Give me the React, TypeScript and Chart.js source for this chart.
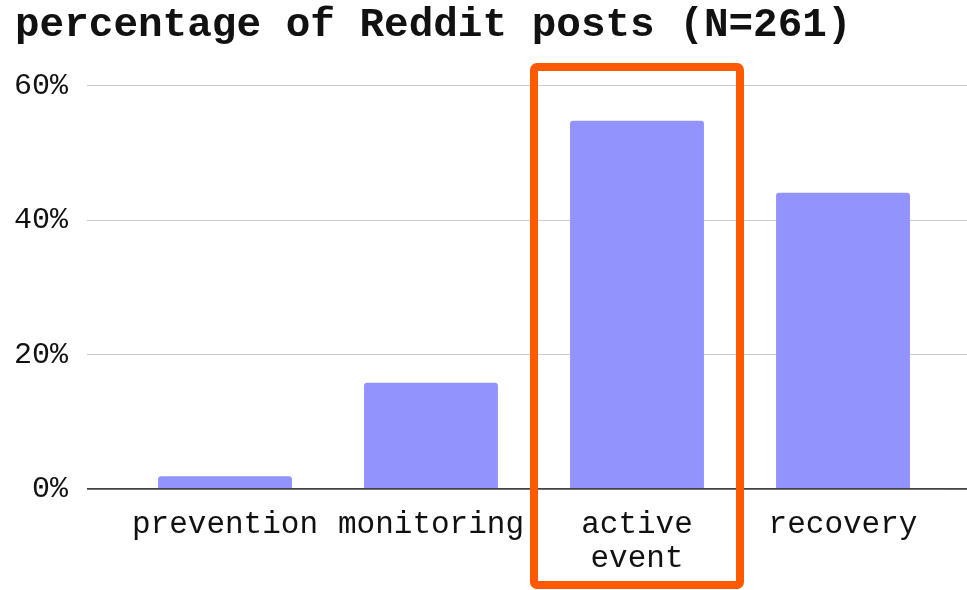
import React, { useEffect, useRef } from "react";
import { Chart, registerables } from "chart.js";

Chart.register(...registerables);

const TITLE = "percentage of Reddit posts (N=261)";
const categories: (string | string[])[] = ["prevention", "monitoring", ["active", "event"], "recovery"];
const percentages = [1.9, 15.8, 54.8, 44.1];
const yTickValues = [0, 20, 40, 60];
const Y_MIN = 0;
const Y_MAX = 60;
const Y_STEP = 20;

// highlight box around a category (in data units)
const HIGHLIGHT_INDEX = 2;
const HIGHLIGHT_TOP = 62.8;
const HIGHLIGHT_BOTTOM = -14.3;

const FONT = "'Courier New', 'Liberation Mono', monospace";
const BAR_COLOR = "#9393fd";
const GRID_COLOR = "#cccccc";
const ZERO_COLOR = "#444444";
const HIGHLIGHT_COLOR = "#ff5a00";

const highlightPlugin = {
  id: "highlightBox",
  afterDatasetsDraw(chart: any) {
    const xs = chart.scales.x;
    const ys = chart.scales.y;
    const cx = xs.getPixelForValue(HIGHLIGHT_INDEX);
    const step = xs.getPixelForValue(1) - xs.getPixelForValue(0);
    const half = step * 0.5;
    const top = ys.getPixelForValue(HIGHLIGHT_TOP);
    const bottom = ys.getPixelForValue(HIGHLIGHT_BOTTOM);
    const ctx = chart.ctx;
    ctx.save();
    ctx.strokeStyle = HIGHLIGHT_COLOR;
    ctx.lineWidth = 8;
    ctx.lineJoin = "round";
    ctx.beginPath();
    if ((ctx as any).roundRect) {
      (ctx as any).roundRect(cx - half, top, half * 2, bottom - top, 3);
    } else {
      ctx.rect(cx - half, top, half * 2, bottom - top);
    }
    ctx.stroke();
    ctx.restore();
  },
};

const gridColor = (c: any) => (c.tick && c.tick.value === 0 ? ZERO_COLOR : GRID_COLOR);
const gridWidth = (c: any) => (c.tick && c.tick.value === 0 ? 1.8 : 1);

export default function App() {
  const ref = useRef<HTMLCanvasElement | null>(null);
  useEffect(() => {
    if (!ref.current) return;
    const chart = new Chart(ref.current, {
      type: "bar",
      data: {
        labels: categories as any,
        datasets: [
          {
            data: percentages,
            backgroundColor: BAR_COLOR,
            borderRadius: 3,
            categoryPercentage: 1,
            barPercentage: 0.65,
          },
        ],
      },
      options: {
        animation: false,
        responsive: true,
        maintainAspectRatio: false,
        layout: { padding: { left: 15, right: 0, top: 0, bottom: 0 } },
        plugins: {
          legend: { display: false },
          tooltip: { enabled: false },
          title: {
            display: true,
            text: TITLE,
            align: "start",
            color: "#111111",
            font: { family: FONT, size: 41, weight: "bold", lineHeight: 0.85 },
            padding: { top: 8, bottom: 43 },
          },
        },
        scales: {
          x: {
            grid: { display: false },
            border: { display: false },
            afterFit: (s: any) => {
              s.paddingLeft = 0;
              s.paddingRight = 0;
              s.height = 101;
            },
            ticks: {
              color: "#111111",
              font: { family: FONT, size: 31, lineHeight: 1.12 },
              padding: 10,
              maxRotation: 0,
              autoSkip: false,
            },
          },
          y: {
            min: Y_MIN,
            max: Y_MAX,
            afterBuildTicks: (s: any) => {
              s.ticks = yTickValues.map((v) => ({ value: v }));
            },
            afterFit: (s: any) => {
              s.width = 107;
            },
            ticks: {
              stepSize: Y_STEP,
              color: "#111111",
              font: { family: FONT, size: 30 },
              padding: 19,
              callback: (v: any) => v + "%",
            },
            grid: {
              color: gridColor,
              tickColor: gridColor,
              lineWidth: gridWidth,
              drawTicks: true,
              tickLength: 35,
            },
            border: { display: false },
          },
          y2: {
            position: "right",
            min: Y_MIN,
            max: Y_MAX,
            afterBuildTicks: (s: any) => {
              s.ticks = yTickValues.map((v) => ({ value: v }));
            },
            afterFit: (s: any) => {
              s.width = 21;
            },
            ticks: { display: false, stepSize: Y_STEP },
            grid: {
              color: gridColor,
              tickColor: gridColor,
              lineWidth: gridWidth,
              drawOnChartArea: false,
              drawTicks: true,
              tickLength: 21,
            },
            border: { display: false },
          },
        },
      } as any,
      plugins: [highlightPlugin],
    });
    return () => chart.destroy();
  }, []);
  return (
    <div style={{ position: "fixed", left: 0, top: 0, width: 967, height: 590, background: "#ffffff" }}>
      <canvas ref={ref} />
    </div>
  );
}
